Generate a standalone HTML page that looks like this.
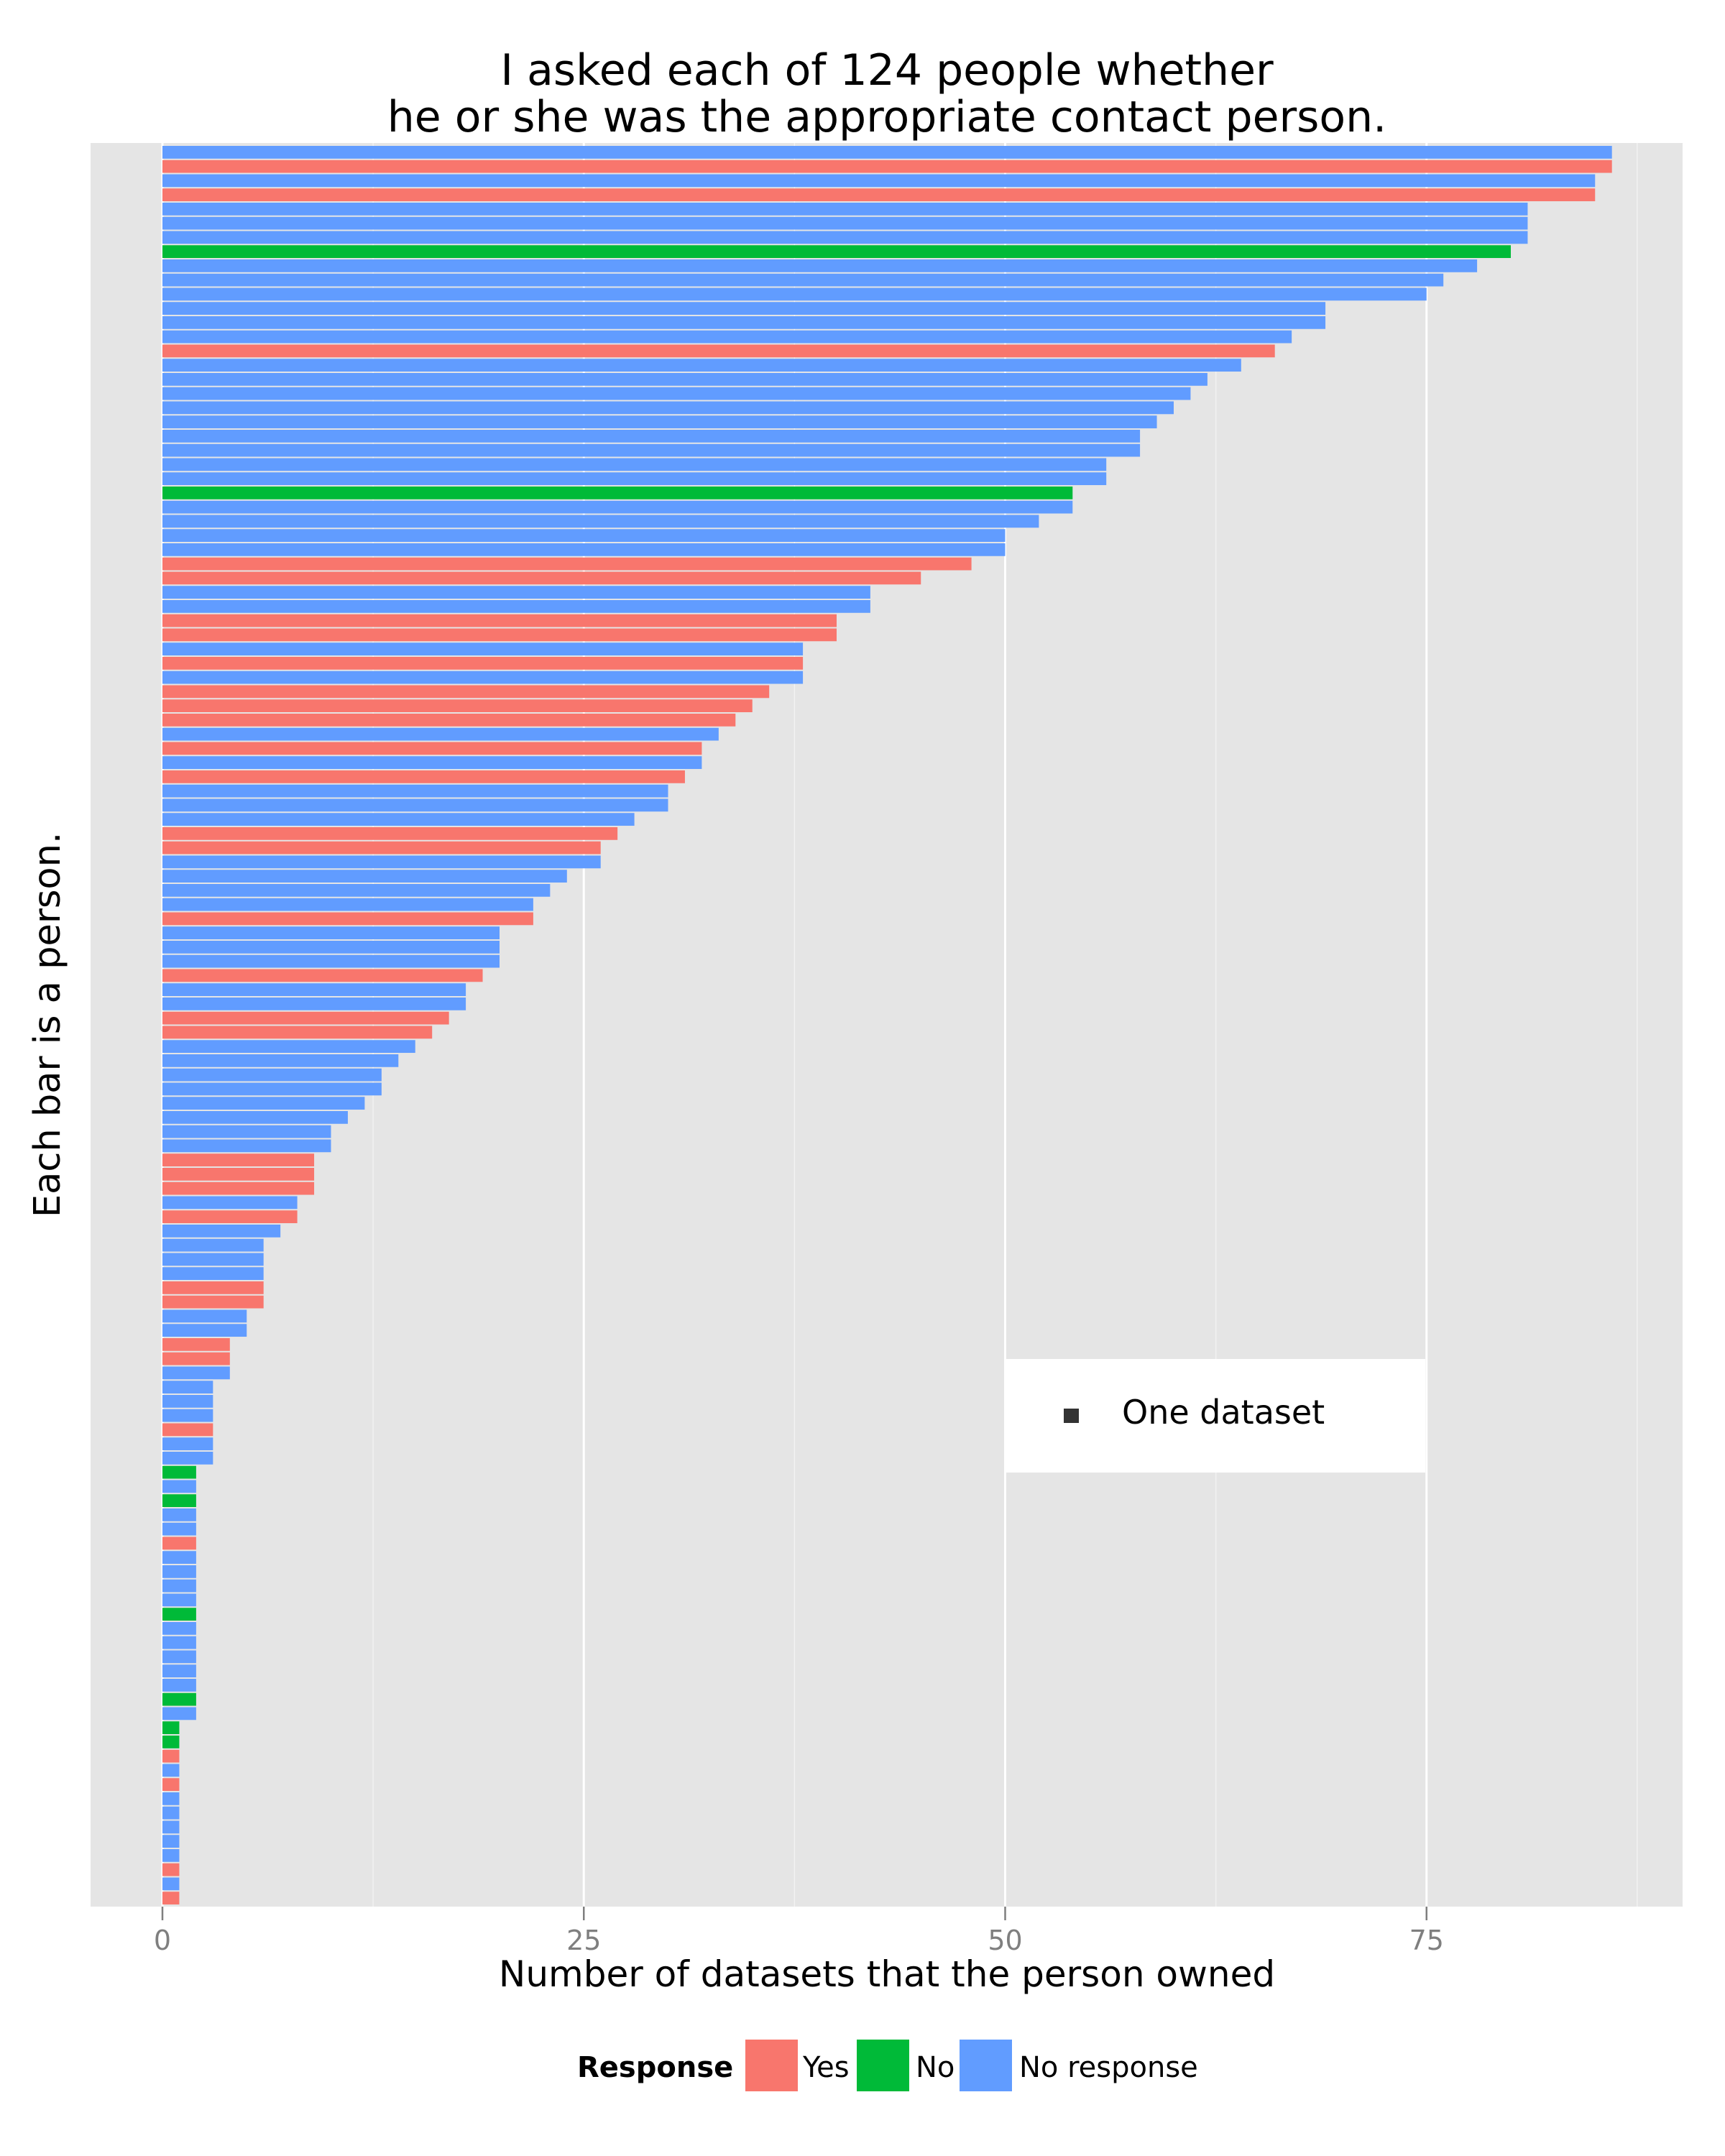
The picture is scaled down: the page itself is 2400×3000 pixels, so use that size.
<!DOCTYPE html>
<html><head><meta charset="utf-8"><style>
html,body{margin:0;padding:0;background:#fff;}
svg{display:block;font-family:"DejaVu Sans","Liberation Sans",sans-serif;}
</style></head><body>
<svg id="chart" width="2400" height="3000" viewBox="0 0 2400 3000" xmlns="http://www.w3.org/2000/svg">
<text x="1234" y="118" font-size="60" text-anchor="middle">I asked each of 124 people whether</text>
<text x="1234" y="183" font-size="60" text-anchor="middle">he or she was the appropriate contact person.</text>
<rect x="126" y="199" width="2215" height="2454" fill="#E5E5E5"/>
<g id="grid"></g>
<g id="bars"></g>
<g id="xaxis"></g>
<rect x="1399" y="1891" width="584" height="158" fill="#fff"/>
<rect x="1480" y="1960" width="21" height="20" fill="#333"/>
<text x="1561" y="1981" font-size="46">One dataset</text>
<text x="1234" y="2764" font-size="50" text-anchor="middle">Number of datasets that the person owned</text>
<text transform="translate(83,1426) rotate(-90)" font-size="51" text-anchor="middle">Each bar is a person.</text>
<g>
<text x="803" y="2890" font-size="40" font-weight="bold">Response</text>
<rect x="1037" y="2838" width="73" height="72" fill="#F8766D"/>
<text x="1117" y="2890" font-size="40">Yes</text>
<rect x="1192" y="2838" width="73" height="72" fill="#00BA38"/>
<text x="1274" y="2890" font-size="40">No</text>
<rect x="1335" y="2838" width="73" height="72" fill="#619CFF"/>
<text x="1418" y="2890" font-size="40">No response</text>
</g>
</svg>
<script>
const values = [86,86,85,85,81,81,81,80,78,76,75,69,69,67,66,64,62,61,60,59,58,58,56,56,54,54,52,50,50,48,45,42,42,40,40,38,38,38,36,35,34,33,32,32,31,30,30,28,27,26,26,24,23,22,22,20,20,20,19,18,18,17,16,15,14,13,13,12,11,10,10,9,9,9,8,8,7,6,6,6,6,6,5,5,4,4,4,3,3,3,3,3,3,2,2,2,2,2,2,2,2,2,2,2,2,2,2,2,2,2,2,1,1,1,1,1,1,1,1,1,1,1,1,1];
const responses = "BRBRBBBGBBBBBBRBBBBBBBBBGBBBBRRBBRRBRBRRRBRBRBBBRRBBBBRBBBRBBRRBBBBBBBBRRRBRBBBBRRBBRRBBBBRBBGBGBBRBBBBGBBBBBGBGGRBRBBBBBRBR";
const tickValues = [0,25,50,75];
const tickLabels = ["0","25","50","75"];
const minorTicks = [12.5,37.5,62.5,87.5];

const NS="http://www.w3.org/2000/svg";
const X0=226, UNIT=23.45, TOP=202, BOTTOM=2651, PT=199, PB=2653;
const xs = v => X0 + v*UNIT;
const band = (BOTTOM-TOP)/values.length;
const ys = i => TOP + i*band;
const colors = {R:"#F8766D", G:"#00BA38", B:"#619CFF"};
const names = {R:"yes", G:"no", B:"no-response"};

const grid=document.getElementById('grid');
minorTicks.forEach(v=>{
  const l=document.createElementNS(NS,'line');
  l.setAttribute('x1',xs(v));l.setAttribute('x2',xs(v));l.setAttribute('y1',PT);l.setAttribute('y2',PB);
  l.setAttribute('stroke','#F2F2F2');l.setAttribute('stroke-width','1.5');
  
  
  grid.appendChild(l);
});
tickValues.forEach(v=>{
  const l=document.createElementNS(NS,'line');
  l.setAttribute('x1',xs(v));l.setAttribute('x2',xs(v));l.setAttribute('y1',PT);l.setAttribute('y2',PB);
  l.setAttribute('stroke','#fff');l.setAttribute('stroke-width','3');
  
  
  grid.appendChild(l);
});

const bars=document.getElementById('bars');
values.forEach((v,i)=>{
  const r=document.createElementNS(NS,'rect');
  const c=responses[i];
  r.setAttribute('x',xs(0));
  r.setAttribute('y',ys(i)+band*0.05);
  r.setAttribute('width',xs(v)-xs(0));
  r.setAttribute('height',band*0.9);
  r.setAttribute('fill',colors[c]);
  
  
  bars.appendChild(r);
});

const xa=document.getElementById('xaxis');
tickValues.forEach((v,i)=>{
  const t=document.createElementNS(NS,'line');
  t.setAttribute('x1',xs(v));t.setAttribute('x2',xs(v));t.setAttribute('y1',PB);t.setAttribute('y2',PB+19);
  t.setAttribute('stroke','#7F7F7F');t.setAttribute('stroke-width','2.5');
  
  
  xa.appendChild(t);
  const tx=document.createElementNS(NS,'text');
  tx.setAttribute('x',xs(v));tx.setAttribute('y',2713);
  tx.setAttribute('font-size','38');tx.setAttribute('fill','#7F7F7F');tx.setAttribute('text-anchor','middle');
  tx.textContent=tickLabels[i];
  
  
  xa.appendChild(tx);
});
</script>
</body></html>
